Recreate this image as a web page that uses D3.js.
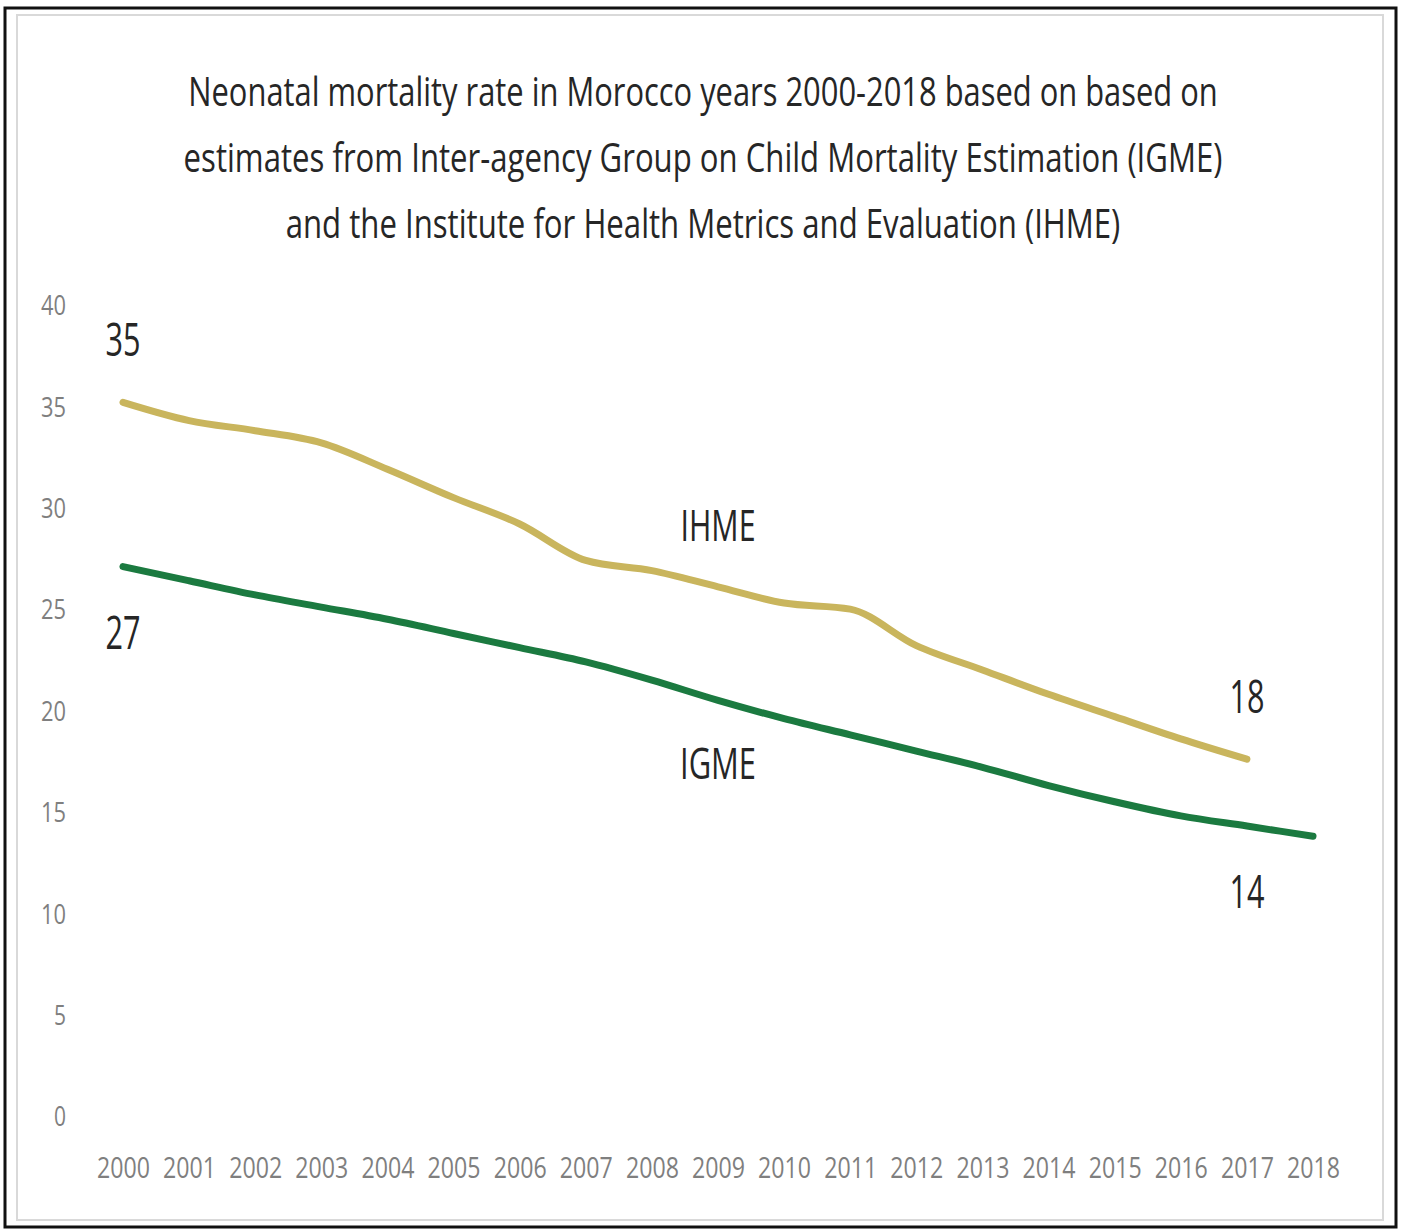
<!DOCTYPE html>
<html>
<head>
<meta charset="utf-8">
<script src="https://cdn.jsdelivr.net/npm/d3@7"></script>
<style>
  html, body { margin: 0; padding: 0; background: #fff; }
  svg { display: block; }
  text { font-family: "Open Sans", "DejaVu Sans", sans-serif; }
</style>
</head>
<body>
<svg id="chart" width="1403" height="1230"></svg>
<script>
// ---- data ----
const years = ["2000","2001","2002","2003","2004","2005","2006","2007","2008","2009","2010","2011","2012","2013","2014","2015","2016","2017","2018"];
const ihme = [35.2, 34.3, 33.8, 33.2, 31.9, 30.5, 29.2, 27.4, 26.9, 26.1, 25.3, 25.0, 23.2, 22.0, 20.8, 19.7, 18.6, 17.6];
const igme = [27.1, 26.4, 25.7, 25.1, 24.5, 23.8, 23.1, 22.4, 21.5, 20.5, 19.6, 18.8, 18.0, 17.2, 16.3, 15.5, 14.8, 14.3, 13.8];
const yTicks = [0, 5, 10, 15, 20, 25, 30, 35, 40];
const titleLines = [
  "Neonatal mortality rate in Morocco years 2000-2018 based on based on",
  "estimates from Inter-agency Group on Child Mortality Estimation (IGME)",
  "and the Institute for Health Metrics and Evaluation (IHME)"
];
const seriesNames = ["IHME", "IGME"];
const valueLabels = [
  {series: "IHME", year: "2000", text: "35", pos: "above"},
  {series: "IGME", year: "2000", text: "27", pos: "below"},
  {series: "IHME", year: "2017", text: "18", pos: "above"},
  {series: "IGME", year: "2017", text: "14", pos: "below"}
];

const svg = d3.select("#chart");
const W = 1403, H = 1230;

// frame
svg.append("rect").attr("x", 0).attr("y", 0).attr("width", W).attr("height", H).attr("fill", "#fff");
svg.append("rect").attr("x", 17).attr("y", 15).attr("width", 1366).attr("height", 1205)
  .attr("fill", "none").attr("stroke", "#d9d9d9").attr("stroke-width", 2);
svg.append("rect").attr("x", 5).attr("y", 8).attr("width", 1391).attr("height", 1219)
  .attr("fill", "none").attr("stroke", "#111").attr("stroke-width", 3);

// scales
const x = d3.scalePoint().domain(years).range([123, 1313]);
const y = d3.scaleLinear().domain([0, 40]).range([1116, 305]);

// helper: place text and condense it horizontally to a target width
function condensedText(parent, str, cx, by, targetW, size, anchor, fill) {
  const t = parent.append("text")
    .attr("x", 0).attr("y", 0)
    .attr("text-anchor", anchor)
    .attr("font-size", size)
    .attr("fill", fill)
    .text(str);
  const w = t.node().getComputedTextLength();
  const sx = w > 0 ? targetW / w : 1;
  t.attr("transform", `translate(${cx},${by}) scale(${sx},1)`);
  return t;
}

// title
const titleW = [1030, 1039, 835];
const titleBase = [106, 172, 238];
titleLines.forEach((t, i) => condensedText(svg, t, 703, titleBase[i], titleW[i], 40, "middle", "#262626"));

// y axis (labels only)
const yAxis = d3.axisLeft(y).tickValues(yTicks).tickSize(0).tickPadding(0);
const yg = svg.append("g").attr("transform", "translate(66,0)").call(yAxis);
yg.select(".domain").remove();
yg.selectAll("text")
  .attr("font-size", 28)
  .attr("fill", "#7f7f7f")
  .attr("dy", "0.35em")
  .style("font-family", '"Open Sans", "DejaVu Sans", sans-serif')
  .each(function(d) {
    const w = this.getComputedTextLength();
    const target = d >= 10 ? 25 : 12;
    d3.select(this).attr("transform", `scale(${target / w},1)`);
  });

// x axis (labels only)
const xAxis = d3.axisBottom(x).tickSize(0).tickPadding(0);
const xg = svg.append("g").attr("transform", "translate(0,1157)").call(xAxis);
xg.select(".domain").remove();
xg.selectAll("text")
  .attr("font-size", 30)
  .attr("fill", "#7f7f7f")
  .attr("dy", "0.71em")
  .style("font-family", '"Open Sans", "DejaVu Sans", sans-serif')
  .each(function() {
    const w = this.getComputedTextLength();
    d3.select(this).attr("transform", `scale(${53 / w},1)`);
  });

// lines
const dataBySeries = {
  IHME: ihme.map((v, i) => ({year: years[i], value: v})),
  IGME: igme.map((v, i) => ({year: years[i], value: v}))
};
const colors = {IHME: "#c9b55d", IGME: "#1b7a40"};
const line = d3.line().x(d => x(d.year)).y(d => y(d.value)).curve(d3.curveMonotoneX);

seriesNames.forEach(s => {
  svg.append("path")
    .datum(dataBySeries[s])
    .attr("fill", "none")
    .attr("stroke", colors[s])
    .attr("stroke-width", 7)
    .attr("stroke-linecap", "round")
    .attr("stroke-linejoin", "round")
    .attr("d", line);
});

// series name labels
condensedText(svg, "IHME", 718, 541, 75, 44, "middle", "#262626");
condensedText(svg, "IGME", 718, 779, 76, 44, "middle", "#262626");

// value labels
valueLabels.forEach(l => {
  const v = dataBySeries[l.series].find(d => d.year === l.year).value;
  const by = l.pos === "above" ? y(v) - 46 : y(v) + 82;
  condensedText(svg, l.text, x(l.year), by, 35, 46, "middle", "#262626");
});
</script>
</body>
</html>
